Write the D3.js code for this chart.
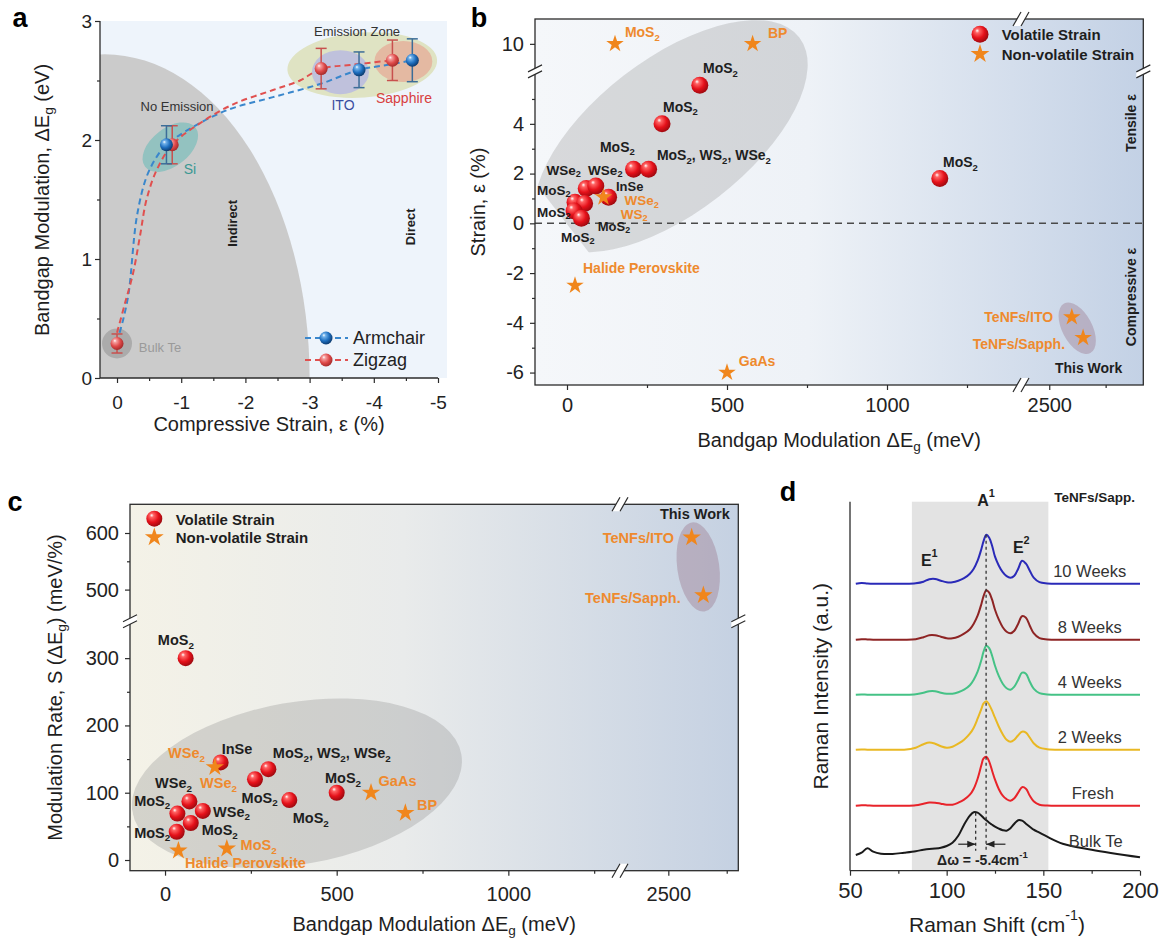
<!DOCTYPE html>
<html><head><meta charset="utf-8">
<script src="https://cdn.jsdelivr.net/npm/d3@7"></script>
<style>body{margin:0;background:#fff}</style>
</head><body>
<script>
const FONT = "'Liberation Sans', Arial, Helvetica, sans-serif";
const AX = '#2b2b2b';
const ORANGE = '#f0861c';
const ORANGE_TXT = '#ee8a2e';
const INK = '#1e1e1e';

// ---------- (a) bandgap vs compressive strain ----------
const armStrain = [-0.77, -3.77, -4.6];
const armGap = [1.96, 2.59, 2.67];
const armErr = [0.16, 0.15, 0.18];
const zigStrain = [0, -0.86, -3.18, -4.29];
const zigGap = [0.29, 1.96, 2.60, 2.67];
const zigErr = [0.08, 0.16, 0.17, 0.17];
const armTrendStrain = [-0.04, -0.1, -0.18, -0.31, -0.46, -0.62, -0.77, -1.09, -1.71, -2.43, -3.16, -3.77, -4.2, -4.6];
const armTrendGap = [0.38, 0.5, 0.71, 1.36, 1.69, 1.86, 1.96, 2.08, 2.25, 2.36, 2.47, 2.59, 2.63, 2.67];
const zigTrendStrain = [0, -0.12, -0.25, -0.36, -0.46, -0.62, -0.86, -1.29, -1.81, -2.43, -2.85, -3.18, -3.63, -4.29];
const zigTrendGap = [0.38, 0.62, 0.88, 1.2, 1.5, 1.75, 1.96, 2.14, 2.3, 2.42, 2.5, 2.6, 2.63, 2.67];
const strainTicksA = [0, -1, -2, -3, -4, -5];
const strainMinorA = [-0.5, -1.5, -2.5, -3.5, -4.5];
const gapTicksA = [0, 1, 2, 3];
const gapMinorA = [0.5, 1.5, 2.5];
// indirect-gap region: quarter ellipse anchored at the origin
const indirectCenterStrain = 0.19, indirectEdgeStrain = -3.0, indirectTopGap = 2.72;

// ---------- (b) strain vs bandgap modulation ----------
const volDEgB = [415, 297, 208, 255, 60, 90, 130, 25, 55, 22, 45, 1165];
const volStrainB = [5.55, 4.0, 2.17, 2.17, 1.4, 1.5, 1.05, 0.85, 0.8, 0.5, 0.2, 1.8];
const nonDEgB = [150, 580, 114, 25, 500, 2600, 2650];
const nonStrainB = [10, 10, 1.05, -2.5, -6, -3.77, -4.6];
const dEgMajorB1 = [0, 500, 1000], dEgMinorB1 = [250, 750, 1250];
const dEgMajorB2 = [2500], dEgMinorB2 = [2750];
const strainMajorB = [-6, -4, -2, 0, 2, 4], strainMinorB = [-5, -3, -1, 1, 3, 5];
const strainMajorBUp = [10];
// [text, ΔEg, strain, colour key, anchor, font size]
const labelsB = [
  ['MoS_2', 181, 10.47, 'o', 'start', 14], ['BP', 628, 10.45, 'o', 'start', 14],
  ['MoS_2', 425, 6.24, 'k', 'start', 14], ['MoS_2', 300, 4.68, 'k', 'start', 14],
  ['MoS_2', 103, 3.07, 'k', 'start', 14], ['MoS_2, WS_2, WSe_2', 281, 2.74, 'k', 'start', 14],
  ['WSe_2', -64, 2.14, 'k', 'start', 13.5], ['WSe_2', 66, 2.14, 'k', 'start', 13.5],
  ['InSe', 153, 1.5, 'k', 'start', 13], ['MoS_2', -94, 1.34, 'k', 'start', 13.5],
  ['WSe_2', 180, 0.93, 'o', 'start', 13.5], ['WS_2', 168, 0.38, 'o', 'start', 13.5],
  ['MoS_2', -94, 0.45, 'k', 'start', 13.5], ['MoS_2', 96, -0.1, 'k', 'start', 13],
  ['MoS_2', -19, -0.55, 'k', 'start', 13.5], ['Halide Perovskite', 50, -1.80, 'o', 'start', 14],
  ['GaAs', 537, -5.54, 'o', 'start', 14], ['MoS_2', 1175, 2.46, 'k', 'start', 14],
  ['TeNFs/ITO', 2517, -3.77, 'o', 'end', 14], ['TeNFs/Sapph.', 2570, -4.85, 'o', 'end', 14],
  ['This Work', 2525, -5.82, 'k', 'start', 14]
];

// ---------- (c) modulation rate vs bandgap modulation ----------
const volDEgC = [60, 162, 262, 301, 362, 500, 71, 36, 110, 75, 34];
const volRateC = [300, 145, 120, 135, 89, 100, 87, 69, 73, 55, 42];
const nonDEgC = [145, 600, 700, 39, 180, 2600, 2650];
const nonRateC = [138, 100, 70, 14, 17, 592, 490];
const dEgMajorC1 = [0, 500, 1000], dEgMinorC1 = [250, 750, 1250];
const dEgMajorC2 = [2500], dEgMinorC2 = [2750];
const rateMajorC = [0, 100, 200, 300], rateMinorC = [50, 150, 250];
const rateMajorCUp = [500, 600], rateMinorCUp = [550];
const labelsC = [
  ['MoS_2', -21, 327, 'k', 'start'], ['InSe', 165, 165, 'k', 'start'],
  ['WSe_2', 9, 159, 'o', 'start'], ['WSe_2', 102, 114, 'o', 'start'],
  ['MoS_2, WS_2, WSe_2', 314, 159, 'k', 'start'], ['WSe_2', -29, 114, 'k', 'start'],
  ['MoS_2', -90, 88, 'k', 'start'], ['WSe_2', 140, 72, 'k', 'start'],
  ['MoS_2', -90, 40.6, 'k', 'start'], ['MoS_2', 107, 44.6, 'k', 'start'],
  ['MoS_2', 220, 22.3, 'o', 'start'], ['Halide Perovskite', 58, -4, 'o', 'start'],
  ['MoS_2', 223, 92.6, 'k', 'start'], ['MoS_2', 372, 62, 'k', 'start'],
  ['MoS_2', 466, 121.4, 'k', 'start'], ['GaAs', 622, 117.4, 'o', 'start'],
  ['BP', 734, 81.7, 'o', 'start'], ['This Work', 2464, 633, 'k', 'start'],
  ['TeNFs/ITO', 2524, 592, 'o', 'end'], ['TeNFs/Sapph.', 2553, 484.6, 'o', 'end']
];

// ---------- (d) Raman spectra ----------
const ramanShift = [53, 56, 59, 62, 66, 72, 78, 84, 88, 91, 94, 97, 100, 103, 106, 109, 112, 114, 116, 118,
  119, 120.5, 122, 123.5, 125, 127, 129, 131, 133, 135, 137, 139, 141, 143, 145, 148, 152, 160, 175, 200];
const intBulk = [15.7, 18, 22.4, 19, 17, 16.7, 18, 19.5, 21, 21.8, 22.2, 23, 24.7, 28, 35, 46, 55, 58.5, 58, 55,
  53, 50.5, 48, 46, 44, 42, 40.5, 40, 42.5, 47, 50.5, 50, 47, 44, 41, 38, 34, 27, 21, 13.4];
const intFresh = [0, 0.5, 0.3, 0, 0, 0, 0, 0.5, 2, 3.2, 3, 2, 1, 1, 3, 6, 11, 17, 27, 41,
  47, 49, 44, 35, 26, 16.5, 10, 6.5, 5, 7.5, 13, 18.5, 17, 10, 4.5, 1, 0.2, 0, 0, 0];
const int2W = [0, 0.3, 0, 0, 0, 0, 0, 2, 5.5, 7.2, 6, 3.5, 2, 3, 6, 10, 16, 22, 31, 41,
  46, 48.5, 45, 39, 32, 23, 15.5, 10, 8, 10, 14.5, 18, 17, 12, 6.5, 2, 0.5, 0, 0, 0];
const int4W = [0, 0.3, 0, 0, 0, 0, 0, 0.5, 2, 3.5, 3.5, 2, 1, 1, 2.5, 5, 9.5, 15, 23, 35,
  42.5, 49, 46.5, 39, 29, 18.5, 11, 6.5, 5, 8, 15, 22, 21, 13, 6, 1.5, 0.3, 0, 0, 0];
const int8W = [0, 0.5, 0.3, 0, 0, 0, 0, 0.5, 2.5, 4.5, 4.5, 3, 1.5, 1.5, 3, 6, 10.5, 16, 24, 36,
  43, 49.5, 47, 40, 30, 20, 12.5, 8, 6.5, 9, 16, 23.5, 22, 14, 6.5, 1.5, 0.3, 0, 0, 0];
const int10W = [0, 0.8, 0.3, 0, 0, 0, 0, 0.5, 2, 4.5, 4.8, 3, 1.5, 1.5, 3, 5.5, 10, 15, 23, 35,
  42, 49, 46, 38, 27, 18, 11.5, 7.5, 6, 8, 15, 23, 20, 13, 6, 1.5, 0.3, 0, 0, 0];
const spectraNames = ['Bulk Te', 'Fresh', '2 Weeks', '4 Weeks', '8 Weeks', '10 Weeks'];
const spectraOffsets = [0, 65, 121, 176, 231, 287];
const spectraColors = ['#1a1a1a', '#e8232a', '#e9b823', '#45c286', '#8e2424', '#2a2ab8'];
const shiftTicksD = [50, 100, 150, 200], shiftMinorD = [75, 125, 175];
const a1Fresh = 120.4, a1Bulk = 115.0;
const bandLo = 82, bandHi = 152.6;

// ---------- helpers ----------
const svg = d3.select('body').append('svg').attr('width', 1161).attr('height', 944)
  .attr('font-family', FONT);
const defs = svg.append('defs');

function sphereGrad(id, light, mid, dark) {
  const g = defs.append('radialGradient').attr('id', id)
    .attr('cx', '40%').attr('cy', '38%').attr('r', '62%').attr('fx', '33%').attr('fy', '28%');
  g.append('stop').attr('offset', '0%').attr('stop-color', '#ffffff');
  g.append('stop').attr('offset', '20%').attr('stop-color', light);
  g.append('stop').attr('offset', '62%').attr('stop-color', mid);
  g.append('stop').attr('offset', '100%').attr('stop-color', dark);
}
sphereGrad('sphRed', '#ff6464', '#e5111a', '#a00a10');
sphereGrad('sphBlue', '#72b2ea', '#1f6fbf', '#0e3d72');
sphereGrad('sphPink', '#f5a0a0', '#df4a4a', '#a82c2c');

function linGrad(id, stops) {
  const g = defs.append('linearGradient').attr('id', id).attr('x1', '0%').attr('x2', '100%').attr('y1', '0%').attr('y2', '0%');
  stops.forEach(([o, c]) => g.append('stop').attr('offset', o).attr('stop-color', c));
}
linGrad('bgB', [['0%', '#f5f7fa'], ['45%', '#eef2f7'], ['100%', '#c3d1e5']]);
linGrad('bgC', [['0%', '#f4f2e7'], ['45%', '#e9ebeb'], ['100%', '#c5d1e2']]);

function clipRect(id, x, y, w, h) {
  defs.append('clipPath').attr('id', id).append('rect').attr('x', x).attr('y', y).attr('width', w).attr('height', h);
}

function rich(textSel, str, fs) {
  const re = /([_^])(\{[^}]*\}|.)/g;
  let last = 0, m, shift = 0;
  const parts = [];
  while ((m = re.exec(str))) {
    if (m.index > last) parts.push({ t: str.slice(last, m.index), k: 'n' });
    let t = m[2]; if (t[0] === '{') t = t.slice(1, -1);
    parts.push({ t, k: m[1] === '_' ? 'sub' : 'sup' });
    last = re.lastIndex;
  }
  if (last < str.length) parts.push({ t: str.slice(last), k: 'n' });
  parts.forEach(p => {
    const target = p.k === 'sub' ? fs * 0.32 : p.k === 'sup' ? -fs * 0.42 : 0;
    const ts = textSel.append('tspan').text(p.t);
    if (target !== shift) { ts.attr('dy', target - shift); shift = target; }
    if (p.k !== 'n') ts.attr('font-size', fs * 0.68);
  });
  return textSel;
}

function label(g, x, y, str, o = {}) {
  const fs = o.fs || 14;
  const t = g.append('text').attr('x', x).attr('y', y)
    .attr('font-size', fs).attr('font-weight', o.weight || 'normal')
    .attr('fill', o.fill || INK).attr('text-anchor', o.anchor || 'start')
    .attr('dominant-baseline', 'central');
  if (o.rotate) t.attr('transform', `rotate(${o.rotate},${x},${y})`);
  return rich(t, str, fs);
}

function drawAxis(parent, orient, scale, majors, minors, o) {
  const mk = orient === 'bottom' ? d3.axisBottom : d3.axisLeft;
  const g = parent.append('g').attr('transform', o.t);
  g.call(mk(scale).tickValues(majors).tickSize(5).tickSizeOuter(0).tickPadding(o.pad)
    .tickFormat(d => String(d)));
  g.attr('font-family', FONT).attr('font-size', o.fs);
  g.select('.domain').remove();
  g.selectAll('text').attr('fill', '#222');
  g.selectAll('line').attr('stroke', AX).attr('stroke-width', 1.2);
  if (minors && minors.length) {
    const gm = parent.append('g').attr('transform', o.t);
    gm.call(mk(scale).tickValues(minors).tickSize(3).tickSizeOuter(0).tickFormat(''));
    gm.select('.domain').remove();
    gm.selectAll('line').attr('stroke', AX).attr('stroke-width', 1.2);
  }
}

function hline(g, x1, x2, y) { g.append('line').attr('x1', x1).attr('x2', x2).attr('y1', y).attr('y2', y).attr('stroke', AX).attr('stroke-width', 1.3); }
function vline(g, x, y1, y2) { g.append('line').attr('x1', x).attr('x2', x).attr('y1', y1).attr('y2', y2).attr('stroke', AX).attr('stroke-width', 1.3); }

function xBreak(g, x, y) {
  const w = 4, h = 7, s = 4;
  g.append('polygon').attr('points', `${x - s - w},${y + h} ${x - s + w},${y - h} ${x + s + w},${y - h} ${x + s - w},${y + h}`).attr('fill', '#fff');
  [-s, s].forEach(d => g.append('line').attr('x1', x + d - w).attr('y1', y + h).attr('x2', x + d + w).attr('y2', y - h)
    .attr('stroke', AX).attr('stroke-width', 1.2));
}
function yBreak(g, x, y) {
  const w = 7, h = 3.5, s = 3;
  g.append('polygon').attr('points', `${x - w},${y - s + h} ${x + w},${y - s - h} ${x + w},${y + s - h} ${x - w},${y + s + h}`).attr('fill', '#fff');
  [-s, s].forEach(d => g.append('line').attr('x1', x - w).attr('y1', y + d + h).attr('x2', x + w).attr('y2', y + d - h)
    .attr('stroke', AX).attr('stroke-width', 1.2));
}

const star = size => d3.symbol().type(d3.symbolStar).size(size)();
function sphere(g, x, y, r, fill) {
  g.append('circle').attr('cx', x).attr('cy', y).attr('r', r).attr('fill', `url(#${fill})`);
}

// panel letters
[['a', 20, 18], ['b', 479, 18], ['c', 15, 502], ['d', 788, 492]].forEach(([s, x, y]) =>
  label(svg, x, y, s, { fs: 27, weight: 'bold', anchor: 'middle', fill: '#000' }));

// ================= panel (a) =================
{
  const g = svg.append('g');
  const xA = d3.scaleLinear().domain([0.265, -5]).range([100, 438]);
  const yA = d3.scaleLinear().domain([0, 3]).range([378, 21]);
  clipRect('clipA', 100, 21, 347, 357);
  g.append('rect').attr('x', 100).attr('y', 21).attr('width', 347).attr('height', 357).attr('fill', '#eef4fb');
  g.append('ellipse').attr('clip-path', 'url(#clipA)')
    .attr('cx', xA(indirectCenterStrain)).attr('cy', yA(0))
    .attr('rx', xA(indirectEdgeStrain) - xA(indirectCenterStrain)).attr('ry', yA(0) - yA(indirectTopGap))
    .attr('fill', '#cbcbcb');

  // substrate zones
  g.append('ellipse').attr('cx', xA(-3.82)).attr('cy', yA(2.63)).attr('rx', 75).attr('ry', 32.5)
    .attr('fill', '#dfe3c3').attr('transform', `rotate(-4,${xA(-3.82)},${yA(2.63)})`);
  g.append('ellipse').attr('cx', xA(-3.48)).attr('cy', yA(2.57)).attr('rx', 28.5).attr('ry', 22).attr('fill', '#bfc1dc');
  g.append('ellipse').attr('cx', xA(-4.46)).attr('cy', yA(2.66)).attr('rx', 29).attr('ry', 20.5).attr('fill', '#e4b9a2');
  g.append('ellipse').attr('cx', xA(-0.83)).attr('cy', yA(1.94)).attr('rx', 32).attr('ry', 19)
    .attr('fill', '#93c2c0').attr('transform', `rotate(-38,${xA(-0.83)},${yA(1.94)})`);
  g.append('circle').attr('cx', xA(0)).attr('cy', yA(0.29)).attr('r', 15).attr('fill', '#ababab');

  // trend lines
  const ln = d3.line().curve(d3.curveCatmullRom.alpha(0.5));
  g.append('path').attr('d', ln(armTrendStrain.map((s, i) => [xA(s), yA(armTrendGap[i])])))
    .attr('fill', 'none').attr('stroke', '#3a87cc').attr('stroke-width', 2).attr('stroke-dasharray', '6,4');
  g.append('path').attr('d', ln(zigTrendStrain.map((s, i) => [xA(s), yA(zigTrendGap[i])])))
    .attr('fill', 'none').attr('stroke', '#e0504f').attr('stroke-width', 2).attr('stroke-dasharray', '6,4');

  function errPts(strain, gap, err, col, fill) {
    strain.forEach((s, i) => {
      const x = xA(s), y1 = yA(gap[i] - err[i]), y2 = yA(gap[i] + err[i]);
      g.append('line').attr('x1', x).attr('x2', x).attr('y1', y1).attr('y2', y2).attr('stroke', col).attr('stroke-width', 1.5);
      [y1, y2].forEach(y => g.append('line').attr('x1', x - 5.5).attr('x2', x + 5.5).attr('y1', y).attr('y2', y).attr('stroke', col).attr('stroke-width', 1.5));
      sphere(g, x, yA(gap[i]), 6.5, fill);
    });
  }
  errPts(zigStrain, zigGap, zigErr, '#c8504e', 'sphPink');
  errPts(armStrain, armGap, armErr, '#3c6d98', 'sphBlue');

  label(g, xA(-0.935), yA(2.286), 'No Emission', { fs: 13, anchor: 'middle', fill: '#333' });
  label(g, xA(-3.74), yA(2.916), 'Emission Zone', { fs: 13, anchor: 'middle', fill: '#333' });
  label(g, xA(-1.137), yA(1.756), 'Si', { fs: 14, anchor: 'middle', fill: '#3a9893' });
  label(g, xA(-3.52), yA(2.294), 'ITO', { fs: 14, anchor: 'middle', fill: '#3a4ea0' });
  label(g, xA(-4.47), yA(2.353), 'Sapphire', { fs: 14, anchor: 'middle', fill: '#d8403e' });
  label(g, xA(-0.67), yA(0.26), 'Bulk Te', { fs: 13, anchor: 'middle', fill: '#9a9a9a' });
  label(g, xA(-1.79), yA(1.30), 'Indirect', { fs: 13, weight: 'bold', anchor: 'middle', rotate: -90 });
  label(g, xA(-4.56), yA(1.27), 'Direct', { fs: 13, weight: 'bold', anchor: 'middle', rotate: -90 });

  // legend
  [['Armchair', '#3a87cc', 'sphBlue', 338], ['Zigzag', '#e0504f', 'sphPink', 360]].forEach(([t, c, f, y]) => {
    g.append('line').attr('x1', 305).attr('x2', 348).attr('y1', y).attr('y2', y).attr('stroke', c).attr('stroke-width', 2).attr('stroke-dasharray', '6,4');
    sphere(g, 326, y, 6.5, f);
    label(g, 353, y, t, { fs: 18, fill: '#222' });
  });

  vline(g, 100, 21, 378); hline(g, 100, 438, 378);
  drawAxis(g, 'bottom', xA, strainTicksA, strainMinorA, { t: 'translate(0,378)', fs: 19, pad: 13 });
  drawAxis(g, 'left', yA, gapTicksA, gapMinorA, { t: 'translate(100,0)', fs: 19, pad: 3 });
  label(g, 269, 424, 'Compressive Strain, ε (%)', { fs: 20, anchor: 'middle' });
  label(g, 42, 200, 'Bandgap Modulation, ΔE_g (eV)', { fs: 20, anchor: 'middle', rotate: -90 });
}

// ================= panel (b) =================
{
  const g = svg.append('g');
  const L = 535, R = 1143.3, T = 19, B = 385;
  const xb1 = d3.scaleLinear().domain([-100, 1400]).range([535, 1015]);
  const xb2 = d3.scaleLinear().domain([2400, 2917]).range([1026.7, 1143.3]);
  const xB = v => v > 2000 ? xb2(v) : xb1(v);
  const yb1 = d3.scaleLinear().domain([-6.5, 6]).range([385, 74.1]);
  const yb2 = d3.scaleLinear().domain([9, 11]).range([68.7, 19]);
  const yB = v => v > 8 ? yb2(v) : yb1(v);
  clipRect('clipB', L, T, R - L, B - T);
  g.append('rect').attr('x', L).attr('y', T).attr('width', R - L).attr('height', B - T).attr('fill', 'url(#bgB)');

  const cx = xB(325), cy = yB(3.5);
  g.append('ellipse').attr('clip-path', 'url(#clipB)').attr('cx', cx).attr('cy', cy).attr('rx', 162).attr('ry', 77)
    .attr('fill', '#8c8c8c').attr('fill-opacity', 0.28).attr('transform', `rotate(-37.6,${cx},${cy})`);
  const tx = xB(2624), ty = yB(-4.22);
  g.append('ellipse').attr('cx', tx).attr('cy', ty).attr('rx', 15).attr('ry', 28)
    .attr('fill', '#8a5a70').attr('fill-opacity', 0.3).attr('transform', `rotate(-28,${tx},${ty})`);

  g.append('line').attr('x1', L).attr('x2', R).attr('y1', yB(0)).attr('y2', yB(0))
    .attr('stroke', '#4a4a4a').attr('stroke-width', 1.5).attr('stroke-dasharray', '7,5');

  volDEgB.forEach((d, i) => sphere(g, xB(d), yB(volStrainB[i]), 8.5, 'sphRed'));
  nonDEgB.forEach((d, i) => g.append('path').attr('d', star(95))
    .attr('transform', `translate(${xB(d)},${yB(nonStrainB[i])})`).attr('fill', ORANGE));

  labelsB.forEach(([t, x, y, c, a, fs]) => label(g, xB(x), yB(y), t,
    { fs, weight: 'bold', fill: c === 'o' ? ORANGE_TXT : INK, anchor: a }));
  label(g, 1131, 123, 'Tensile ε', { fs: 14, weight: 'bold', anchor: 'middle', rotate: -90 });
  label(g, 1131, 297, 'Compressive ε', { fs: 14, weight: 'bold', anchor: 'middle', rotate: -90 });

  // legend
  sphere(g, 980, 34.3, 8.5, 'sphRed');
  label(g, 1001.7, 34.3, 'Volatile Strain', { fs: 15, weight: 'bold' });
  g.append('path').attr('d', star(110)).attr('transform', 'translate(980,54)').attr('fill', ORANGE);
  label(g, 1001.7, 54, 'Non-volatile Strain', { fs: 15, weight: 'bold' });

  g.append('rect').attr('x', L).attr('y', T).attr('width', R - L).attr('height', B - T)
    .attr('fill', 'none').attr('stroke', AX).attr('stroke-width', 1.3);
  drawAxis(g, 'bottom', xb1, dEgMajorB1, dEgMinorB1, { t: `translate(0,${B})`, fs: 20, pad: 8 });
  drawAxis(g, 'bottom', xb2, dEgMajorB2, dEgMinorB2, { t: `translate(0,${B})`, fs: 20, pad: 8 });
  drawAxis(g, 'left', yb1, strainMajorB, strainMinorB, { t: `translate(${L},0)`, fs: 20, pad: 6 });
  drawAxis(g, 'left', yb2, strainMajorBUp, [], { t: `translate(${L},0)`, fs: 20, pad: 6 });
  xBreak(g, 1021, B); xBreak(g, 1021, T);
  yBreak(g, L, 71.4); yBreak(g, R, 71.4);
  label(g, (L + R) / 2, 440, 'Bandgap Modulation ΔE_g (meV)', { fs: 20, anchor: 'middle' });
  label(g, 478, (T + B) / 2, 'Strain, ε (%)', { fs: 20, anchor: 'middle', rotate: -90 });
}

// ================= panel (c) =================
{
  const g = svg.append('g');
  const L = 130, R = 738.3, T = 504.3, B = 870.7;
  const xc1 = d3.scaleLinear().domain([-100, 1320]).range([130.7, 618.2]);
  const xc2 = d3.scaleLinear().domain([2300, 2800]).range([621.6, 738.4]);
  const xC = v => v > 2000 ? xc2(v) : xc1(v);
  const yc1 = d3.scaleLinear().domain([-15, 350]).range([870.1, 624.5]);
  const yc2 = d3.scaleLinear().domain([450, 650]).range([617.9, 504.7]);
  const yC = v => v > 400 ? yc2(v) : yc1(v);
  clipRect('clipC', L, T, R - L, B - T);
  g.append('rect').attr('x', L).attr('y', T).attr('width', R - L).attr('height', B - T).attr('fill', 'url(#bgC)');

  const cx = xC(384), cy = yC(114);
  g.append('ellipse').attr('clip-path', 'url(#clipC)').attr('cx', cx).attr('cy', cy).attr('rx', 167).attr('ry', 81)
    .attr('fill', '#8c8c8c').attr('fill-opacity', 0.3).attr('transform', `rotate(-10,${cx},${cy})`);
  const tx = xC(2628), ty = yC(540);
  g.append('ellipse').attr('cx', tx).attr('cy', ty).attr('rx', 21).attr('ry', 45)
    .attr('fill', '#8a5a70').attr('fill-opacity', 0.3).attr('transform', `rotate(-8,${tx},${ty})`);

  volDEgC.forEach((d, i) => sphere(g, xC(d), yC(volRateC[i]), 8, 'sphRed'));
  nonDEgC.forEach((d, i) => g.append('path').attr('d', star(105))
    .attr('transform', `translate(${xC(d)},${yC(nonRateC[i])})`).attr('fill', ORANGE));

  labelsC.forEach(([t, x, y, c, a]) => label(g, xC(x), yC(y), t,
    { fs: 14.5, weight: 'bold', fill: c === 'o' ? ORANGE_TXT : INK, anchor: a }));

  sphere(g, 154.3, 518.7, 8, 'sphRed');
  label(g, 175.7, 518.7, 'Volatile Strain', { fs: 15, weight: 'bold' });
  g.append('path').attr('d', star(110)).attr('transform', 'translate(154.3,537.3)').attr('fill', ORANGE);
  label(g, 175.7, 537.3, 'Non-volatile Strain', { fs: 15, weight: 'bold' });

  g.append('rect').attr('x', L).attr('y', T).attr('width', R - L).attr('height', B - T)
    .attr('fill', 'none').attr('stroke', AX).attr('stroke-width', 1.3);
  drawAxis(g, 'bottom', xc1, dEgMajorC1, dEgMinorC1, { t: `translate(0,${B})`, fs: 20, pad: 11 });
  drawAxis(g, 'bottom', xc2, dEgMajorC2, dEgMinorC2, { t: `translate(0,${B})`, fs: 20, pad: 11 });
  drawAxis(g, 'left', yc1, rateMajorC, rateMinorC, { t: `translate(${L},0)`, fs: 20, pad: 6 });
  drawAxis(g, 'left', yc2, rateMajorCUp, rateMinorCUp, { t: `translate(${L},0)`, fs: 20, pad: 6 });
  xBreak(g, 620, B); xBreak(g, 620, T);
  yBreak(g, L, 621.2); yBreak(g, R, 621.2);
  label(g, (L + R) / 2, 924, 'Bandgap Modulation ΔE_g (meV)', { fs: 20, anchor: 'middle' });
  label(g, 55, (T + B) / 2, 'Modulation Rate, S (ΔE_g) (meV/%)', { fs: 20, anchor: 'middle', rotate: -90 });
}

// ================= panel (d) =================
{
  const g = svg.append('g');
  const L = 850, R = 1140, T = 501.7, B = 870.7;
  const xd = d3.scaleLinear().domain([50, 200]).range([L, R]);
  const yd = d3.scaleLinear().domain([0, 369]).range([B, T]);
  g.append('rect').attr('x', xd(bandLo)).attr('y', T).attr('width', xd(bandHi) - xd(bandLo)).attr('height', B - T).attr('fill', '#e3e3e3');

  const series = [intBulk, intFresh, int2W, int4W, int8W, int10W];
  const ln = d3.line().curve(d3.curveCatmullRom.alpha(0.5));
  series.forEach((arr, k) => {
    g.append('path').attr('d', ln(arr.map((v, i) => [xd(ramanShift[i]), yd(v + spectraOffsets[k])])))
      .attr('fill', 'none').attr('stroke', spectraColors[k]).attr('stroke-width', 2);
    label(g, xd(174) + (k === 0 ? 6 : k === 1 ? 3 : 0), yd(spectraOffsets[k] + (k === 0 ? 30 : 13)), spectraNames[k],
      { fs: 16.5, anchor: 'middle', fill: '#333' });
  });

  // A1 peak positions
  g.append('line').attr('x1', xd(a1Fresh)).attr('x2', xd(a1Fresh)).attr('y1', yd(spectraOffsets[5] + 49)).attr('y2', yd(20))
    .attr('stroke', '#333').attr('stroke-width', 1.3).attr('stroke-dasharray', '3,3');
  g.append('line').attr('x1', xd(a1Bulk)).attr('x2', xd(a1Bulk)).attr('y1', yd(58)).attr('y2', yd(20))
    .attr('stroke', '#333').attr('stroke-width', 1.3).attr('stroke-dasharray', '3,3');
  defs.append('marker').attr('id', 'arr').attr('viewBox', '0 0 10 10').attr('refX', 10).attr('refY', 5)
    .attr('markerWidth', 7).attr('markerHeight', 7).attr('orient', 'auto-start-reverse')
    .append('path').attr('d', 'M0,1 L10,5 L0,9 z').attr('fill', '#222');
  const ay = yd(26.5);
  g.append('line').attr('x1', xd(a1Bulk - 9)).attr('x2', xd(a1Bulk)).attr('y1', ay).attr('y2', ay)
    .attr('stroke', '#222').attr('stroke-width', 1.2).attr('marker-end', 'url(#arr)');
  g.append('line').attr('x1', xd(a1Fresh + 10)).attr('x2', xd(a1Fresh)).attr('y1', ay).attr('y2', ay)
    .attr('stroke', '#222').attr('stroke-width', 1.2).attr('marker-end', 'url(#arr)');
  label(g, xd(118.5), yd(10.5), `Δω = ${(a1Bulk - a1Fresh).toFixed(1)}cm^{-1}`, { fs: 14, weight: 'bold', anchor: 'middle', fill: '#222' });

  label(g, xd(a1Fresh), 500, 'A^1', { fs: 16, weight: 'bold', anchor: 'middle' });
  label(g, xd(91), 560, 'E^1', { fs: 16, weight: 'bold', anchor: 'middle' });
  label(g, xd(138.6), 547, 'E^2', { fs: 16, weight: 'bold', anchor: 'middle' });
  label(g, 1135, 497, 'TeNFs/Sapp.', { fs: 13.5, weight: 'bold', anchor: 'end' });

  vline(g, L, T, B); hline(g, L, R, B);
  drawAxis(g, 'bottom', xd, shiftTicksD, shiftMinorD, { t: `translate(0,${B})`, fs: 22, pad: 7 });
  label(g, (L + R) / 2 + 2, 924, 'Raman Shift (cm^{-1})', { fs: 21, anchor: 'middle' });
  label(g, 820, (T + B) / 2, 'Raman Intensity (a.u.)', { fs: 21, anchor: 'middle', rotate: -90 });
}
</script>
</body></html>
